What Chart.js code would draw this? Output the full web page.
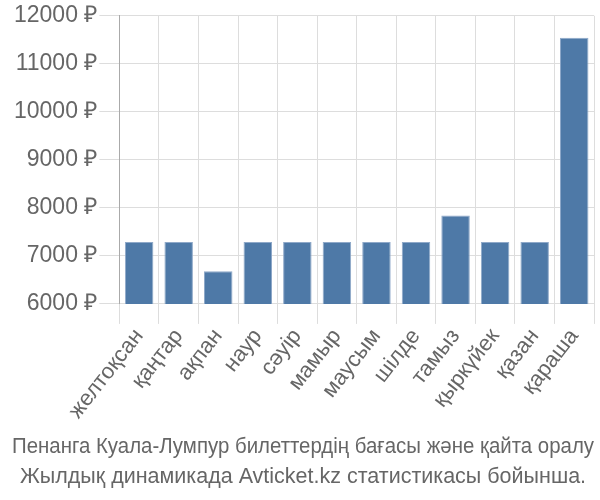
<!DOCTYPE html>
<html>
<head>
<meta charset="utf-8">
<script src="https://cdn.jsdelivr.net/npm/chart.js@4"></script>
<style>
  html, body { margin: 0; padding: 0; background: #fff; }
  #wrap { width: 600px; height: 500px; }
</style>
</head>
<body>
<div id="wrap"><canvas id="chart" width="600" height="500"></canvas></div>
<script>
const months = ["желтоқсан", "қаңтар", "ақпан", "наур", "сәуір", "мамыр",
  "маусым", "шілде", "тамыз", "қыркүйек", "қазан", "қараша"];
const prices = [7290, 7290, 6680, 7290, 7290, 7290, 7290, 7290, 7840, 7290, 7290, 11545];
const titleLines = [
  "Пенанга Куала-Лумпур билеттердің бағасы және қайта оралу",
  "Жылдық динамикада Avticket.kz статистикасы бойынша."
];

new Chart(document.getElementById("chart"), {
  type: "bar",
  data: {
    labels: months,
    datasets: [{
      data: prices,
      backgroundColor: "#4e79a7",
      borderColor: "#8fa9c9",
      borderWidth: 1
    }]
  },
  options: {
    responsive: false,
    animation: false,
    layout: { padding: { left: 12, right: 6, top: 3, bottom: 0 } },
    plugins: {
      legend: { display: false },
      tooltip: { enabled: false },
      title: {
        display: true,
        position: "bottom",
        text: titleLines,
        color: "#666",
        font: { family: "'Liberation Sans'", size: 21.5, weight: "normal", lineHeight: 1.4 },
        padding: { top: 8, bottom: 8 }
      }
    },
    scales: {
      x: {
        grid: { color: "#ddd", tickLength: 20 },
        border: { color: "#ddd" },
        ticks: {
          color: "#666",
          font: { family: "'Liberation Sans'", size: 22 },
          minRotation: 52,
          maxRotation: 52,
          padding: 0
        }
      },
      y: {
        min: 6000,
        max: 12000,
        grid: { color: "#ddd", tickLength: 20 },
        border: { color: "#aaa" },
        ticks: {
          stepSize: 1000,
          color: "#666",
          font: { family: "'Liberation Sans'", size: 23 },
          padding: 2,
          callback: (v) => v + " ₽"
        }
      }
    }
  }
});
</script>
</body>
</html>
